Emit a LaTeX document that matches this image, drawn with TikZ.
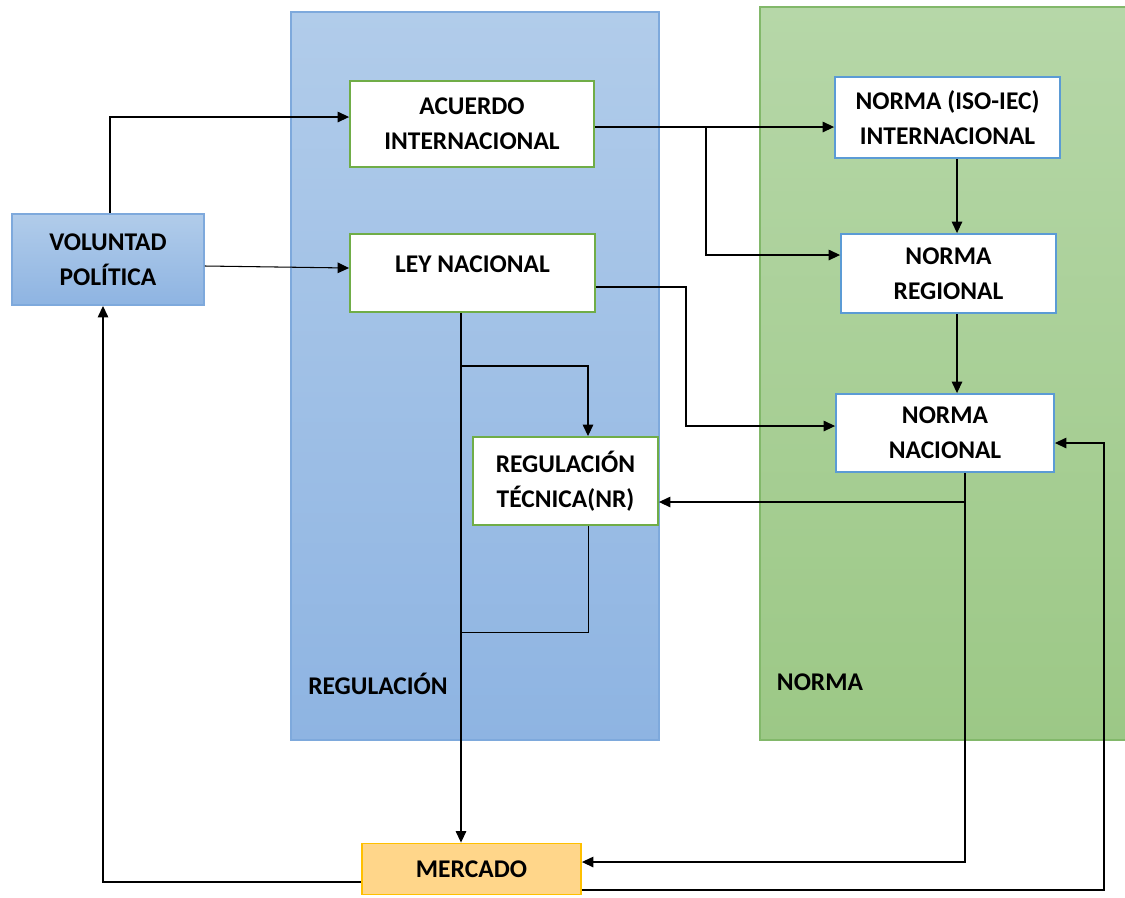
\documentclass[tikz,border=0pt]{standalone}
\usepackage{fontspec}
\setmainfont{Carlito}
\usepackage{tikz}
\usetikzlibrary{arrows.meta, positioning, calc}
\definecolor{regtop}{HTML}{B1CCEA}
\definecolor{regbottom}{HTML}{8EB4E2}
\definecolor{regedge}{HTML}{7EA9DC}
\definecolor{normtop}{HTML}{B6D7A8}
\definecolor{normbottom}{HTML}{9CC886}
\definecolor{normedge}{HTML}{82B86A}
\definecolor{greenline}{HTML}{70AD47}
\definecolor{blueline}{HTML}{5B9BD5}
\definecolor{mercfill}{HTML}{FFD68A}
\definecolor{mercedge}{HTML}{FFC000}

\begin{document}
\begin{tikzpicture}[
    x=0.02cm, y=-0.02cm,
    box/.style={draw, line width=1.1pt, fill=white, align=center, inner sep=0pt,
        font=\bfseries\fontsize{14.5}{20}\selectfont},
    greenbox/.style={box, draw=greenline},
    bluebox/.style={box, draw=blueline},
    panellabel/.style={font=\bfseries\fontsize{14.5}{17}\selectfont},
    arrow/.style={-{Triangle[length=6.5pt,width=6pt]}, line width=0.6pt}
]
    \useasboundingbox (0,0) rectangle (1125,897);

    % background panels
    \draw[regedge, line width=0.8pt, top color=regtop, bottom color=regbottom] (291,12) rectangle (659,740);
    \draw[normedge, line width=0.8pt, top color=normtop, bottom color=normbottom] (760,7) rectangle (1127,740);
    \node[panellabel] (reglabel) at (378,684) {REGULACIÓN};
    \node[panellabel] (normlabel) at (820,682) {NORMA};

    % boxes
    \node[box, draw=regedge, top color=regtop, bottom color=regbottom, minimum width=3.84cm, minimum height=1.82cm] (vol) at (108,259.5) {VOLUNTAD\\POLÍTICA};
    \node[greenbox, minimum width=4.88cm, minimum height=1.72cm] (acuerdo) at (472,124) {ACUERDO\\INTERNACIONAL};
    \node[greenbox, minimum width=4.9cm, minimum height=1.56cm, text depth=0.36cm] (ley) at (472.5,273) {LEY NACIONAL};
    \node[greenbox, minimum width=3.7cm, minimum height=1.76cm] (regtec) at (565.5,481) {REGULACIÓN\\TÉCNICA(NR)};
    \node[bluebox, minimum width=4.5cm, minimum height=1.62cm] (normaiso) at (947.5,117.5) {NORMA (ISO-IEC)\\INTERNACIONAL};
    \node[bluebox, minimum width=4.3cm, minimum height=1.58cm] (normareg) at (948.5,273.5) {NORMA\\REGIONAL};
    \node[bluebox, minimum width=4.36cm, minimum height=1.56cm] (normanac) at (945,433) {NORMA\\NACIONAL};
    \node[box, draw=mercedge, fill=mercfill, minimum width=4.38cm, minimum height=1.02cm] (mercado) at (471.5,869) {MERCADO};

    % bend points
    \coordinate (h1) at (110,117);
    \coordinate (j1) at (706,127);
    \coordinate (k1) at (686,287);
    \coordinate (m1) at (957,0);
    \coordinate (d1) at (461,366);
    \coordinate (d2) at (588,366);
    \coordinate (d3) at (461,632);
    \coordinate (e1) at (965,502);
    \coordinate (e2) at (965,862);
    \coordinate (f1) at (1104,890);
    \coordinate (f2) at (1104,443);
    \coordinate (g1) at (103,882);

    % connectors
    \draw[arrow] (vol.north -| h1) -- (h1) -- (acuerdo.west |- h1);
    \draw[arrow] ([yshift=-0.13cm]vol.east) -- ([yshift=0.1cm]ley.west);
    \draw[arrow] (acuerdo.east |- j1) -- (normaiso.west |- j1);
    \draw[arrow] (j1) |- ([yshift=0.37cm]normareg.west);
    \draw[arrow] (normaiso.south -| m1) -- (normareg.north -| m1);
    \draw[arrow] (normareg.south -| m1) -- (normanac.north -| m1);
    \draw[arrow] (ley.east |- k1) -- (k1) |- ([yshift=0.14cm]normanac.west);
    \draw[arrow] (ley.south -| d1) -- (mercado.north -| d1);
    \draw[arrow] (d1) -- (d2) -- (d2 |- regtec.north);
    \draw (regtec.south -| d2) |- (d3);
    \draw[arrow] (normanac.south -| e1) -- (e2) -- (mercado.east |- e2);
    \draw[arrow] (e1) -- (regtec.east |- e1);
    \draw[arrow] (mercado.east |- f1) -- (f1) -- (f2) -- (normanac.east |- f2);
    \draw[arrow] (mercado.west |- g1) -- (g1) -- (g1 |- vol.south);
\end{tikzpicture}
\end{document}
